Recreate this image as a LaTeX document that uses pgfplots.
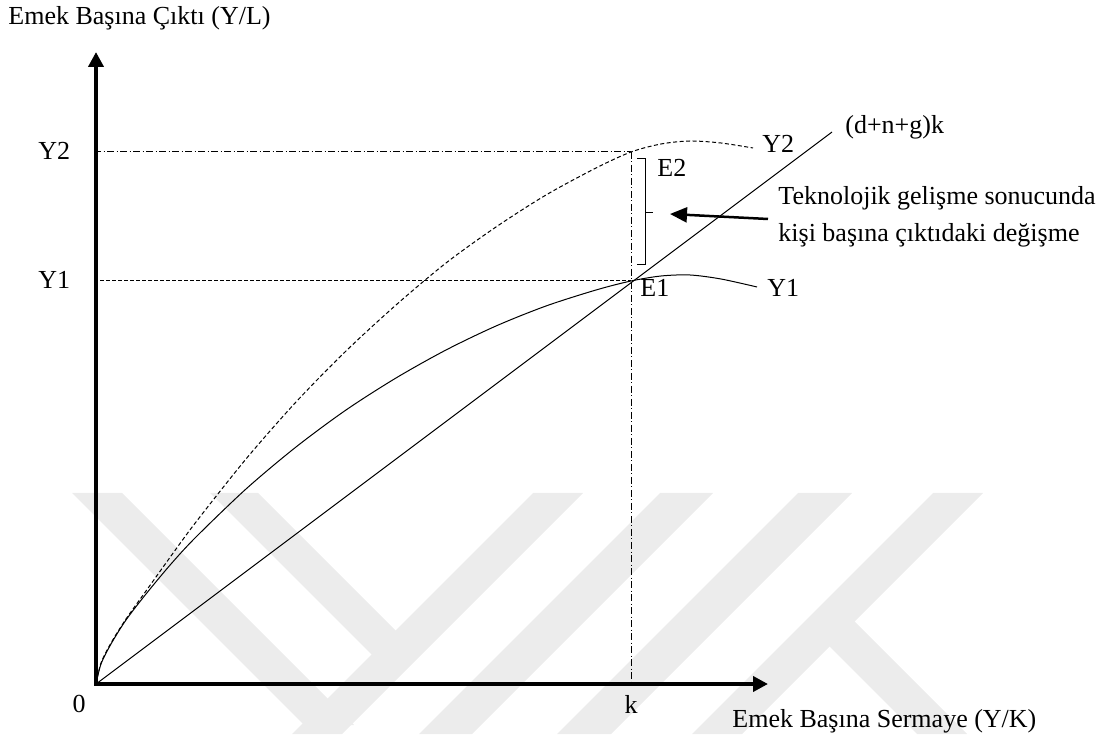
\documentclass[border=0pt]{standalone}
\usepackage{fontspec}
\setmainfont{Liberation Serif}
\usepackage{pgfplots}
\pgfplotsset{compat=1.18}
\usetikzlibrary{arrows.meta}

\definecolor{wm}{gray}{0.925}

\begin{document}
\begin{tikzpicture}[every node/.style={font=\fontsize{13}{15}\selectfont, inner sep=0pt}]
\begin{axis}[
    width=551.5pt, height=367pt, scale only axis,
    xmin=-96, xmax=1007, ymin=-50, ymax=684,
    hide axis, clip=false, no markers,
    cycle list={{black}},
    every axis plot/.append style={black, line width=0.5pt},
  ]
% keep the whole frame as the picture's size
\path (rel axis cs:0,0) rectangle (rel axis cs:1,1);

% faint watermark in the background
\addplot[fill=wm, draw=none] coordinates {(-24,191) (26,191) (258,-41) (208,-41)} -- cycle;
\addplot[fill=wm, draw=none] coordinates {(114,191) (162,191) (324,29) (276,29)} -- cycle;
\addplot[fill=wm, draw=none] coordinates {(437,191) (487,191) (246,-50) (196,-50)} -- cycle;
\addplot[fill=wm, draw=none] coordinates {(564,191) (617,191) (376,-50) (323,-50)} -- cycle;
\addplot[fill=wm, draw=none] coordinates {(702,191) (756,191) (515,-50) (461,-50)} -- cycle;
\addplot[fill=wm, draw=none] coordinates {(837,191) (887,191) (646,-50) (596,-50)} -- cycle;
\addplot[fill=wm, draw=none] coordinates {(724,47) (749,72) (871,-50) (821,-50)} -- cycle;

% guide lines
\addplot[dash pattern=on 3.5pt off 1.25pt on 0.5pt off 1.25pt] coordinates {(-2,532) (535,532)};
\addplot[dash pattern=on 2pt off 1pt] coordinates {(-2,403) (535,403)};
\addplot[dash pattern=on 3.5pt off 1.25pt on 0.5pt off 1.25pt] coordinates {(535,532) (535,0)};

% (d+n+g)k
\addplot[solid] coordinates {(0,0) (736,552)};

% Y1
\addplot[smooth] coordinates {
  (0,0) (5,20) (15,40) (30,64) (50,90) (75,120) (100,147) (150,195)
  (200,237) (250,274) (300,306) (350,334) (400,358) (450,378) (500,394)
  (535,403) (565,408) (594,409) (625,405) (661,397)
};

% Y2
\addplot[smooth, dash pattern=on 2pt off 1.25pt] coordinates {
  (0,0) (5,21) (15,41) (30,65) (50,93) (75,128) (100,162) (150,225)
  (200,282) (250,333) (300,379) (350,421) (400,457) (450,489) (500,516)
  (535,532) (565,540) (594,543) (625,541) (657,536)
};

% bracket between E1 and E2
\addplot[solid] coordinates {(541,525) (549,525) (549,419) (541,419)};
\addplot[solid] coordinates {(549,471) (557,471)};
\addplot[line width=1.25pt, -{Triangle[width=7.5pt,length=8.5pt]}] coordinates {(672,465) (574,470)};

% axes
\addplot[line width=2pt, {Triangle[width=7.5pt,length=7.5pt]}-{Triangle[width=7.5pt,length=7.5pt]}]
  coordinates {(0,632) (0,0) (672,0)};

% texts
\node[anchor=base west] at (axis cs:-88,659) {Emek Başına Çıktı (Y/L)};
\node[anchor=base west] at (axis cs:-58,524) {Y2};
\node[anchor=base west] at (axis cs:-58,395) {Y1};
\node[anchor=base] at (axis cs:-17,-28) {0};
\node[anchor=base] at (axis cs:535,-29) {k};
\node[anchor=base west] at (axis cs:636,-43) {Emek Başına Sermaye (Y/K)};
\node[anchor=base west] at (axis cs:561,507) {E2};
\node[anchor=base west] at (axis cs:544,387) {E1};
\node[anchor=base west] at (axis cs:666,531) {Y2};
\node[anchor=base west] at (axis cs:671,387) {Y1};
\node[anchor=base west] at (axis cs:749,550) {(d+n+g)k};
\node[anchor=base west] at (axis cs:682,479) {Teknolojik gelişme sonucunda};
\node[anchor=base west] at (axis cs:682,442) {kişi başına çıktıdaki değişme};
\end{axis}
\end{tikzpicture}
\end{document}
